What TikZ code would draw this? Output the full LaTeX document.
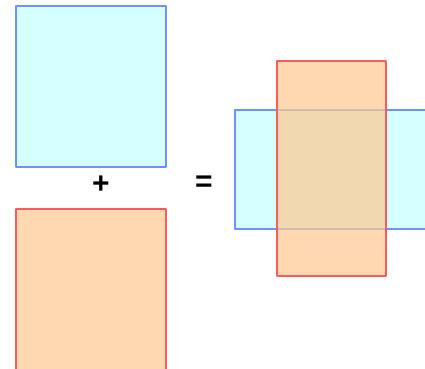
\documentclass[tikz,border=0pt]{standalone}
\usepackage{fontspec}
\setmainfont{Liberation Sans}
\begin{document}
\begin{tikzpicture}[x=1pt,y=-1pt,
  line join=round,
  bluebox/.style={draw=blueedge, line width=2pt, fill=cyanfill, inner sep=0pt, anchor=north west},
  redbox/.style={draw=rededge, line width=2pt, fill=peachfill, fill opacity=0.73, inner sep=0pt, anchor=north west},
  sign/.style={font=\fontsize{30}{30}\selectfont\bfseries, inner sep=0pt}]
\definecolor{blueedge}{RGB}{110,145,255}
\definecolor{cyanfill}{RGB}{214,255,255}
\definecolor{rededge}{RGB}{255,90,90}
\definecolor{peachfill}{RGB}{252,202,147}
\useasboundingbox (0,0) rectangle (425,368);
% the two separate squares
\node[bluebox, minimum width=150pt, minimum height=161pt] (sqblue) at (15,5) {};
\node[redbox, minimum width=150pt, minimum height=170pt] (sqred) at (15,208) {};
\node[sign] (plus) at (101,185) {+};
\node[sign] (eq) at (204,184) {=};
% the combined cross
\node[bluebox, minimum width=200pt, minimum height=119pt] (wide) at (234,109) {};
\node[redbox, minimum width=109pt, minimum height=215pt] (tall) at (276,60) {};
\end{tikzpicture}
\end{document}
